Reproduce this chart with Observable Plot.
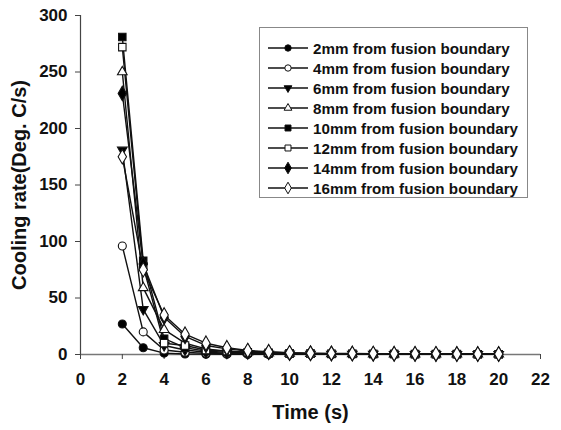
<!DOCTYPE html>
<html><head><meta charset="utf-8">
<script src="https://cdn.jsdelivr.net/npm/d3@7"></script>
<script src="https://cdn.jsdelivr.net/npm/@observablehq/plot@0.6"></script>
<style>
body{margin:0;background:#fff;}
#wrap{position:relative;width:561px;height:430px;}
#legend{position:absolute;left:259px;top:27px;width:269px;height:171px;border:1px solid #888;box-sizing:border-box;background:#fff;font:bold 15.2px "Liberation Sans",Arial,sans-serif;color:#111;}
.row{position:absolute;left:0;height:20px;display:flex;align-items:center;white-space:nowrap;}
.row svg{margin-left:8px;margin-right:5px;}
g[aria-label="x-axis label"] text{font-size:20px;}
g[aria-label="y-axis label"] text{font-size:20px;}
</style></head><body><div id="wrap"></div>
<script>
const time = [2,3,4,5,6,7,8,9,10,11,12,13,14,15,16,17,18,19,20];
const labels = ["2mm from fusion boundary","4mm from fusion boundary","6mm from fusion boundary","8mm from fusion boundary","10mm from fusion boundary","12mm from fusion boundary","14mm from fusion boundary","16mm from fusion boundary"];
const mm2  = [27, 6, 1.2, 0.5, 0.3, 0.2, 0.1, 0.1, 0.1, 0.1, 0.1, 0.1, 0.1, 0.1, 0.1, 0.1, 0.1, 0.1, 0.1];
const mm4  = [96, 20, 4, 2, 1, 0.6, 0.4, 0.3, 0.3, 0.2, 0.2, 0.2, 0.2, 0.1, 0.1, 0.1, 0.1, 0.1, 0.1];
const mm6  = [181, 40, 8, 4, 2, 1.2, 0.8, 0.6, 0.5, 0.4, 0.3, 0.3, 0.3, 0.2, 0.2, 0.2, 0.2, 0.2, 0.2];
const mm8  = [250, 59, 22, 10, 5, 3, 2, 1.2, 0.9, 0.7, 0.6, 0.5, 0.4, 0.4, 0.3, 0.3, 0.3, 0.3, 0.3];
const mm10 = [281, 83, 14, 6, 3, 2, 1.5, 1, 0.8, 0.6, 0.5, 0.5, 0.4, 0.4, 0.3, 0.3, 0.3, 0.3, 0.3];
const mm12 = [272, 78, 10, 8, 4, 3, 2, 1.5, 1, 0.8, 0.7, 0.6, 0.5, 0.5, 0.4, 0.4, 0.4, 0.3, 0.3];
const mm14 = [231, 80, 33, 16, 8, 5, 3, 2, 1.3, 1, 0.8, 0.7, 0.6, 0.5, 0.5, 0.4, 0.4, 0.4, 0.4];
const mm16 = [175, 75, 35, 18, 10, 6, 3.5, 2.5, 1.5, 1.2, 1, 0.9, 0.8, 0.7, 0.6, 0.6, 0.5, 0.5, 0.5];
const xTicks = [0,2,4,6,8,10,12,14,16,18,20,22];
const yTicks = [0,50,100,150,200,250,300];

const triangleDown = {
  draw(ctx, size) {
    const y = -Math.sqrt(size / (Math.sqrt(3) * 3));
    ctx.moveTo(0, -y * 2);
    ctx.lineTo(-Math.sqrt(3) * y, y);
    ctx.lineTo(Math.sqrt(3) * y, y);
    ctx.closePath();
  }
};
const valuesList = [mm2, mm4, mm6, mm8, mm10, mm12, mm14, mm16];
const styles = [
  {symbol: "circle", fill: "black", r: 4},
  {symbol: "circle", fill: "white", r: 4},
  {symbol: triangleDown, fill: "black", r: 3.6},
  {symbol: "triangle", fill: "white", r: 3.6},
  {symbol: "square", fill: "black", r: 4.2},
  {symbol: "square", fill: "white", r: 4.2},
  {symbol: "diamond", fill: "black", r: 4.4},
  {symbol: "diamond", fill: "white", r: 4.4}
];
const series = labels.map((label, i) => ({
  label, style: styles[i],
  rows: time.map((t, j) => ({t, v: valuesList[i][j]}))
}));

const marks = [
  Plot.ruleY([0], {stroke: "#777", strokeWidth: 1.3}),
  Plot.ruleX([0], {y1: 0, y2: 300, stroke: "#444", strokeWidth: 1.2}),
  Plot.axisX({ticks: xTicks, tickSize: 5, tickPadding: 13, fontSize: 17, label: "Time (s)", labelAnchor: "center", labelOffset: 64, labelArrow: "none", stroke: "#444"}),
  Plot.axisY({ticks: yTicks, tickSize: 5, tickPadding: 8, fontSize: 17, label: "Cooling rate(Deg. C/s)", labelAnchor: "center", labelOffset: 69, labelArrow: "none", stroke: "#444"})
];
for (const s of series) {
  marks.push(Plot.line(s.rows, {x: "t", y: "v", stroke: "#111", strokeWidth: 1.4}));
}
for (const s of series) {
  marks.push(Plot.dot(s.rows, {x: "t", y: "v", symbol: s.style.symbol, r: s.style.r, fill: s.style.fill, stroke: "#111", strokeWidth: 1.1}));
}

const chart = Plot.plot({
  width: 561, height: 430,
  marginLeft: 80, marginRight: 21, marginTop: 15, marginBottom: 76,
  x: {domain: [0, 22], label: null},
  y: {domain: [0, 300], label: null},
  style: {fontFamily: "'Liberation Sans', Arial, sans-serif", fontSize: "17px", fontWeight: "bold", color: "#111", background: "white"},
  marks
});
const wrap = document.getElementById("wrap");
wrap.appendChild(chart);

const legend = document.createElement("div");
legend.id = "legend";
series.forEach((s, i) => {
  const row = document.createElement("div");
  row.className = "row";
  row.style.top = (10 + i * 20) + "px";
  const svg = d3.create("svg").attr("width", 40).attr("height", 20);
  svg.append("line").attr("x1", 0).attr("x2", 40).attr("y1", 10).attr("y2", 10).attr("stroke", "#111").attr("stroke-width", 1.6);
  const sym = typeof s.style.symbol === "string" ? {circle: d3.symbolCircle, triangle: d3.symbolTriangle, square: d3.symbolSquare, diamond: d3.symbolDiamond}[s.style.symbol] : s.style.symbol;
  const rr = s.style.r * 0.8;
  svg.append("path").attr("transform", "translate(20,10)")
    .attr("d", d3.symbol(sym, Math.PI * rr * rr)())
    .attr("fill", s.style.fill).attr("stroke", "#111").attr("stroke-width", 1);
  row.appendChild(svg.node());
  const span = document.createElement("span");
  span.textContent = s.label;
  row.appendChild(span);
  legend.appendChild(row);
});
wrap.appendChild(legend);
</script>
</body></html>
